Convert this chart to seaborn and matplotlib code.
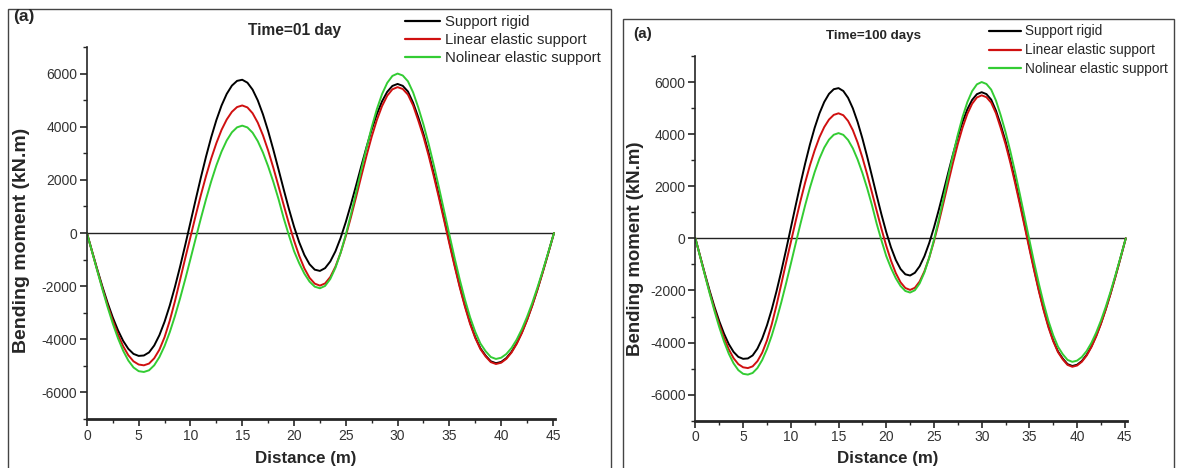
import matplotlib
matplotlib.use("Agg")
import matplotlib.pyplot as plt
import seaborn as sns
import pandas as pd
from matplotlib.patches import Rectangle
from matplotlib.ticker import MultipleLocator

# ---------------- data ----------------
dist = [0, 0.5, 1, 1.5, 2, 2.5, 3, 3.5, 4, 4.5, 5, 5.5, 6, 6.5, 7, 7.5, 8, 8.5,
        9, 9.5, 10, 10.5, 11, 11.5, 12, 12.5, 13, 13.5, 14, 14.5, 15, 15.5, 16,
        16.5, 17, 17.5, 18, 18.5, 19, 19.5, 20, 20.5, 21, 21.5, 22, 22.5, 23,
        23.5, 24, 24.5, 25, 25.5, 26, 26.5, 27, 27.5, 28, 28.5, 29, 29.5, 30,
        30.5, 31, 31.5, 32, 32.5, 33, 33.5, 34, 34.5, 35, 35.5, 36, 36.5, 37,
        37.5, 38, 38.5, 39, 39.5, 40, 40.5, 41, 41.5, 42, 42.5, 43, 43.5, 44,
        44.5, 45, 45.1]

rigid = [0, -690, -1370, -2020, -2630, -3180, -3660, -4060, -4360, -4550, -4625,
         -4610, -4494, -4234, -3846, -3339, -2730, -2030, -1262, -445, 400, 1249,
         2080, 2870, 3599, 4247, 4797, 5234, 5546, 5725, 5767, 5657, 5395, 4991,
         4465, 3838, 3138, 2396, 1644, 915, 241, -349, -828, -1177, -1380, -1427,
         -1322, -1072, -688, -184, 414, 1085, 1799, 2526, 3233, 3891, 4474, 4955,
         5314, 5535, 5610, 5538, 5325, 4900, 4350, 3730, 3010, 2230, 1400, 540,
         -330, -1180, -1990, -2720, -3370, -3920, -4340, -4615, -4828, -4900,
         -4852, -4708, -4473, -4149, -3743, -3264, -2722, -2126, -1488, -821,
         -138, 0]

linear = [0, -700, -1400, -2080, -2720, -3300, -3820, -4260, -4600, -4830, -4950,
          -4980, -4914, -4715, -4391, -3920, -3300, -2570, -1760, -940, -150, 650,
          1420, 2140, 2800, 3380, 3880, 4270, 4560, 4740, 4800, 4726, 4507, 4153,
          3678, 3105, 2458, 1764, 1056, 362, -285, -858, -1333, -1687, -1906,
          -1980, -1898, -1657, -1267, -744, -113, 601, 1365, 2145, 2909, 3623,
          4254, 4777, 5167, 5408, 5490, 5419, 5208, 4800, 4230, 3620, 2910, 2130,
          1310, 460, -400, -1240, -2040, -2770, -3420, -3950, -4370, -4648, -4859,
          -4930, -4882, -4737, -4500, -4174, -3766, -3284, -2739, -2139, -1497,
          -826, -139, 0]

nonlinear = [0, -710, -1420, -2120, -2790, -3410, -3960, -4430, -4800, -5060,
             -5200, -5230, -5167, -4979, -4671, -4252, -3734, -3130, -2457, -1733,
             -978, -212, 543, 1267, 1940, 2544, 3062, 3482, 3789, 3977, 4040, 3973,
             3775, 3456, 3027, 2510, 1926, 1280, 560, -80, -680, -1140, -1530,
             -1830, -2020, -2080, -1992, -1731, -1308, -743, -60, 712, 1538, 2382,
             3208, 3980, 4663, 5228, 5651, 5912, 6000, 5927, 5709, 5290, 4720,
             4080, 3350, 2550, 1700, 820, -60, -930, -1750, -2500, -3170, -3720,
             -4160, -4449, -4667, -4740, -4694, -4555, -4327, -4013, -3620, -3157,
             -2634, -2057, -1440, -794, -133, 0]

series_names = ["Support rigid", "Linear elastic support", "Nolinear elastic support"]
series_colors = ["#000000", "#d01010", "#33cc33"]
panel_titles = ["Time=01 day", "Time=100 days"]
panel_tags = ["(a)", "(a)"]
x_ticks = [0, 5, 10, 15, 20, 25, 30, 35, 40, 45]
y_ticks = [-6000, -4000, -2000, 0, 2000, 4000, 6000]

assert len(dist) == len(rigid) == len(linear) == len(nonlinear)

df = pd.DataFrame({"dist": dist * 3,
                   "moment": rigid + linear + nonlinear,
                   "series": sum([[n] * len(dist) for n in series_names], [])})

# ---------------- figure ----------------
sns.set_style("ticks")
plt.rcParams["font.family"] = ["Liberation Sans", "DejaVu Sans"]
plt.rcParams["axes.unicode_minus"] = False

W, H = 1179, 468
fig = plt.figure(figsize=(W / 100, H / 100), dpi=100)

def fx(px):
    return px / W

def fy(py):
    return 1 - py / H

panels = [
    dict(ax=(86.9, 555.0, 47, 419), box=(8, 611, 9, 470),
         tag=(13, 17), tagfs=12.5, title=(295, 31), titlefs=11.2,
         leg=(405, 15), fs=10.7, ls=0.28,
         ylab=(22, 240), ylabfs=14, xlab=(306, 458)),
    dict(ax=(695.4, 1126.7, 56, 420.7), box=(623, 1174, 19, 470),
         tag=(633, 34), tagfs=11, title=(873, 36), titlefs=9.6,
         leg=(989, 24.5), fs=9.8, ls=0.35,
         ylab=(636, 249), ylabfs=13.4, xlab=(888, 458)),
]

for i, p in enumerate(panels):
    l, r, t, b = p["ax"]
    ax = fig.add_axes([fx(l), fy(b), fx(r) - fx(l), fy(t) - fy(b)])
    sns.lineplot(data=df, x="dist", y="moment", hue="series",
                 hue_order=series_names, palette=series_colors,
                 linewidth=1.4, ax=ax, legend=False, sort=False, estimator=None)
    ax.hlines(0, dist[0], dist[-1], color="#222222", linewidth=1.0, zorder=1)

    ax.set_xlim(0, 45.2)
    ax.set_ylim(-7000, 7000)
    ax.set_xticks(x_ticks)
    ax.set_yticks(y_ticks)
    ax.xaxis.set_minor_locator(MultipleLocator(2.5))
    ax.yaxis.set_minor_locator(MultipleLocator(1000))
    for s in ["top", "right"]:
        ax.spines[s].set_visible(False)
    ax.spines["left"].set_linewidth(1.2)
    ax.spines["bottom"].set_linewidth(2.0)
    ax.tick_params(axis="both", which="major", direction="out", length=5,
                   width=1.2, labelsize=10, labelcolor="#333333", pad=2)
    ax.tick_params(axis="both", which="minor", direction="out", length=3, width=1.0)
    ax.set_xlabel("")
    ax.set_ylabel("")

    fig.text(fx(p["xlab"][0]), fy(p["xlab"][1]), "Distance (m)", ha="center",
             va="center", fontsize=12.2, fontweight="bold")
    fig.text(fx(p["ylab"][0]), fy(p["ylab"][1]), "Bending moment (kN.m)",
             ha="center", va="center", rotation=90, fontsize=p["ylabfs"],
             fontweight="bold")
    fig.text(fx(p["tag"][0]), fy(p["tag"][1]), panel_tags[i], ha="left",
             va="center", fontsize=p["tagfs"], fontweight="bold")
    fig.text(fx(p["title"][0]), fy(p["title"][1]), panel_titles[i], ha="center",
             va="center", fontsize=p["titlefs"], fontweight="bold")

    handles = [plt.Line2D([], [], color=c, linewidth=1.6) for c in series_colors]
    ax.legend(handles, series_names, loc="upper left",
              bbox_to_anchor=(fx(p["leg"][0]), fy(p["leg"][1])),
              bbox_transform=fig.transFigure, frameon=False, fontsize=p["fs"],
              handlelength=2.35, handletextpad=0.32, labelspacing=p["ls"],
              borderpad=0, borderaxespad=0)

    bl, br, bt, bb = p["box"]
    fig.add_artist(Rectangle((fx(bl), fy(bb)), fx(br) - fx(bl), fy(bt) - fy(bb),
                             transform=fig.transFigure, fill=False,
                             edgecolor="#444444", linewidth=1.0))

fig.savefig("out.png", dpi=100)
